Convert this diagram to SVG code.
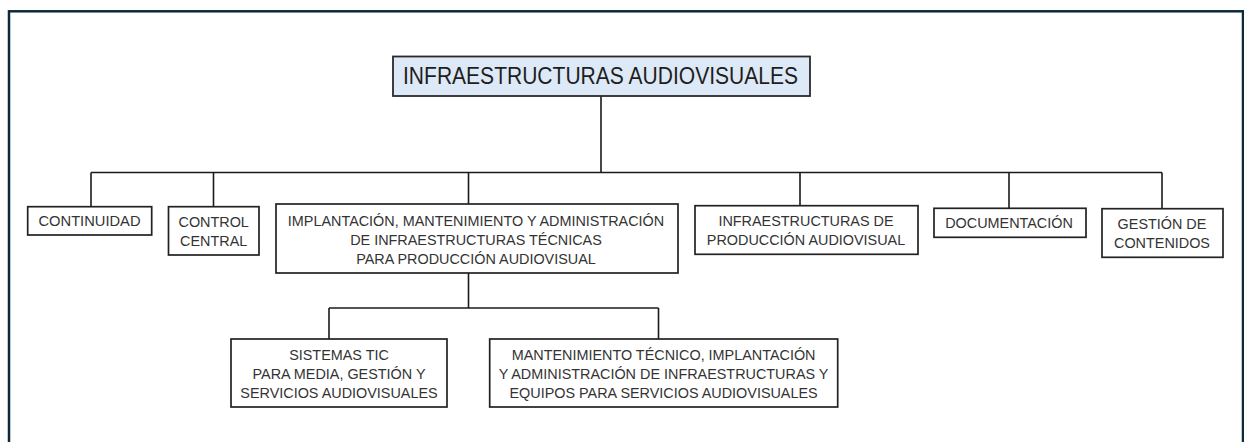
<svg xmlns="http://www.w3.org/2000/svg" width="1244" height="442" viewBox="0 0 1244 442">
<style>
.box{fill:#ffffff;stroke:#222222;stroke-width:1.7}
.title{fill:#dde9f6;stroke:#2a2a2a;stroke-width:1.8}
.t{font-family:"Liberation Sans",Arial,sans-serif;font-size:14.4px;fill:#333333;text-anchor:middle}
.tt{font-family:"Liberation Sans",Arial,sans-serif;font-size:24.5px;fill:#1e1e1e;text-anchor:middle}
.con{fill:none;stroke:#1a1a1a;stroke-width:1.6}
</style>
<rect x="0" y="0" width="1244" height="442" fill="#ffffff"/>
<rect id="frame" x="9" y="11.3" width="1234" height="500" fill="none" stroke="#0e2a38" stroke-width="2.5"/>
<g id="connectors" class="con">
<path d="M601 96 V172.5"/>
<path d="M91 172.5 H1162"/>
<path d="M91 172.5 V206.7"/>
<path d="M213.5 172.5 V206.7"/>
<path d="M468.5 172.5 V204"/>
<path d="M800 172.5 V205.7"/>
<path d="M1009 172.5 V208.3"/>
<path d="M1162 172.5 V208.7"/>
<path d="M468.5 273 V308"/>
<path d="M329 308 H658.5"/>
<path d="M329 308 V339"/>
<path d="M658.5 308 V339"/>
</g>
<g id="n-root">
<rect class="title" x="393" y="56.5" width="417" height="39.5"/>
<text class="tt" x="600.5" y="84.3" textLength="395" lengthAdjust="spacingAndGlyphs">INFRAESTRUCTURAS AUDIOVISUALES</text>
</g>
<g id="n-continuidad">
<rect class="box" x="27.7" y="206.7" width="124" height="28.3"/>
<text class="t" x="89.5" y="225.9" textLength="102" lengthAdjust="spacingAndGlyphs">CONTINUIDAD</text>
</g>
<g id="n-control">
<rect class="box" x="168.5" y="206.7" width="90.5" height="48.3"/>
<text class="t" x="213.7" y="226.9">CONTROL</text>
<text class="t" x="213.7" y="245.7">CENTRAL</text>
</g>
<g id="n-implantacion">
<rect class="box" x="276" y="204" width="402" height="69"/>
<text class="t" x="476" y="225.7">IMPLANTACIÓN, MANTENIMIENTO Y ADMINISTRACIÓN</text>
<text class="t" x="476" y="244.7">DE INFRAESTRUCTURAS TÉCNICAS</text>
<text class="t" x="476" y="263.7">PARA PRODUCCIÓN AUDIOVISUAL</text>
</g>
<g id="n-infraprod">
<rect class="box" x="695" y="205.7" width="223" height="48.6"/>
<text class="t" x="806" y="225.9">INFRAESTRUCTURAS DE</text>
<text class="t" x="806" y="245.2">PRODUCCIÓN AUDIOVISUAL</text>
</g>
<g id="n-documentacion">
<rect class="box" x="934" y="208.3" width="152" height="29"/>
<text class="t" x="1009" y="227.6">DOCUMENTACIÓN</text>
</g>
<g id="n-gestion">
<rect class="box" x="1102" y="208.7" width="121" height="48.6"/>
<text class="t" x="1162" y="228.6">GESTIÓN DE</text>
<text class="t" x="1162" y="248.2">CONTENIDOS</text>
</g>
<g id="n-sistemas">
<rect class="box" x="231" y="339" width="216" height="68"/>
<text class="t" x="339" y="360.2">SISTEMAS TIC</text>
<text class="t" x="339" y="379.2">PARA MEDIA, GESTIÓN Y</text>
<text class="t" x="339" y="398.2">SERVICIOS AUDIOVISUALES</text>
</g>
<g id="n-mantenimiento">
<rect class="box" x="489.7" y="339" width="348" height="68"/>
<text class="t" x="663.6" y="360.2">MANTENIMIENTO TÉCNICO, IMPLANTACIÓN</text>
<text class="t" x="663.6" y="379.2">Y ADMINISTRACIÓN DE INFRAESTRUCTURAS Y</text>
<text class="t" x="663.6" y="398.2">EQUIPOS PARA SERVICIOS AUDIOVISUALES</text>
</g>
</svg>
